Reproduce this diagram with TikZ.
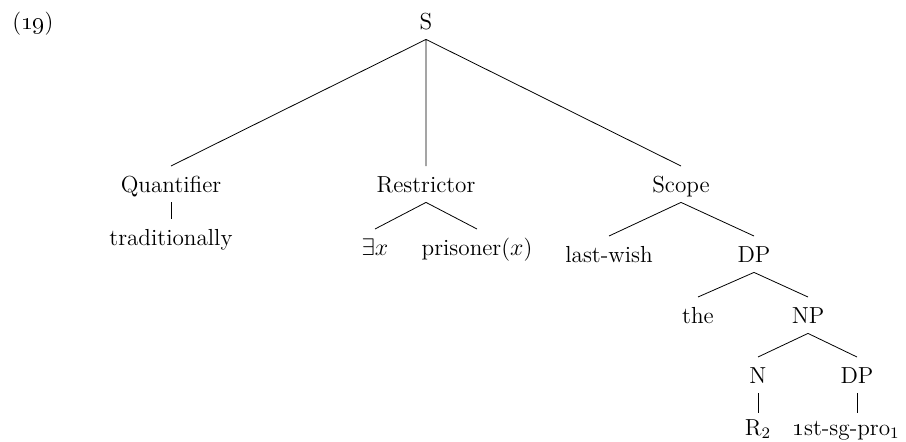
\documentclass[tikz,border=0pt]{standalone}
\begin{document}
\begin{tikzpicture}[x=.5pt,y=-.5pt,
  every node/.style={anchor=base,inner xsep=0pt,inner ysep=5pt,text height=7.8pt,text depth=0pt,font=\fontsize{11.6}{14}\selectfont}]
\useasboundingbox (0,0) rectangle (906,441);
\node[anchor=base west] (exnum) at (12,29) {(\oldstylenums{19})};
%
\node (s) at (426,29) {S};
\node (quant) at (171,192) {Quantifier};
\node (restr) at (426,192) {Restrictor};
\node (scope) at (681,192) {Scope};
\node (trad) at (171,245) {traditionally};
\node (exists) at (375,255) {$\exists x$};
\node (prisoner) at (477,255) {prisoner($x$)};
\node (wish) at (609,262) {last-wish};
\node (dpa) at (754,262) {DP};
\node (the) at (698,323) {the};
\node (np) at (808,323) {NP};
\node (n) at (758,383) {N};
\node (dpb) at (857,383) {DP};
\node[inner ysep=3pt] (rtwo) at (758,435) {R$_2$};
\node[inner ysep=3pt] (pro) at (846,435) {\oldstylenums{1}st-sg-pro$_1$};
%
\draw (s.south)--(quant.north) (s.south)--(restr.north) (s.south)--(scope.north);
\draw (quant.south)--(trad.north);
\draw (restr.south)--(exists.north) (restr.south)--(prisoner.north);
\draw (scope.south)--(wish.north) (scope.south)--(dpa.north);
\draw (dpa.south)--(the.north) (dpa.south)--(np.north);
\draw (np.south)--(n.north) (np.south)--(dpb.north);
\draw (n.south)--(rtwo.north);
\draw (dpb.south)--(dpb.south |- pro.north);
%
\end{tikzpicture}
\end{document}
